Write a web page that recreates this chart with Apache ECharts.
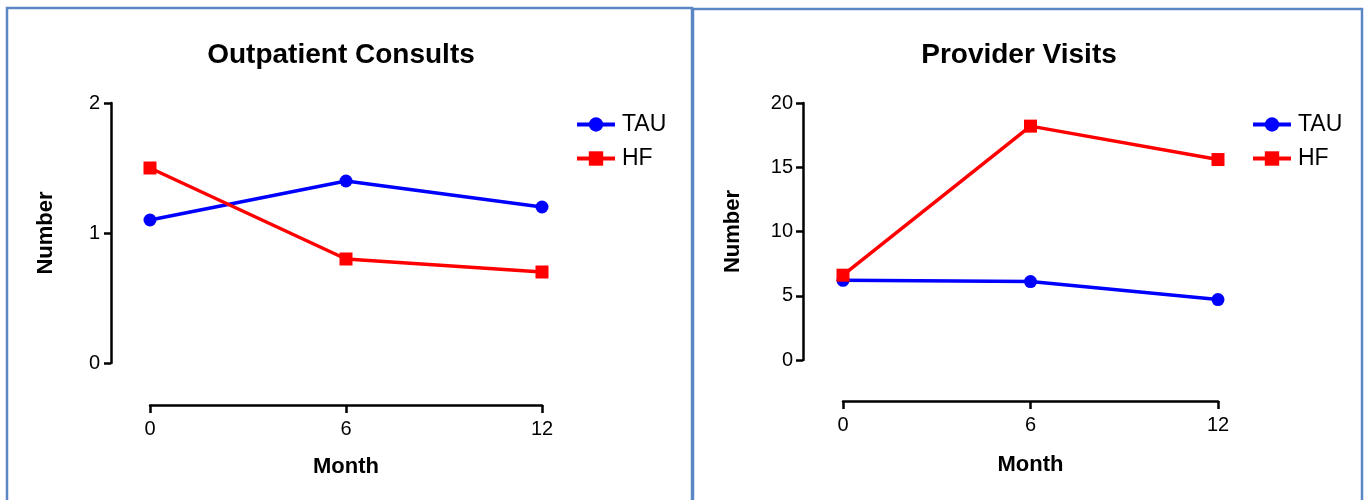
<!DOCTYPE html>
<html><head><meta charset="utf-8">
<script src="https://cdn.jsdelivr.net/npm/echarts@6/dist/echarts.min.js"></script>
<style>html,body{margin:0;padding:0;background:#fff}#c{width:1367px;height:500px}</style>
</head><body><div id="c"></div>
<script>
const months = [0, 6, 12];
const seriesNames = ['TAU', 'HF'];
const consultsTAU = [1.1, 1.4, 1.2];
const consultsHF = [1.5, 0.8, 0.7];
const visitsTAU = [6.2, 6.1, 4.7];
const visitsHF = [6.6, 18.2, 15.6];
const titles = ['Outpatient Consults', 'Provider Visits'];

const FONT = 'Liberation Sans, Arial, sans-serif';
const colors = { TAU: '#0000ff', HF: '#ff0000' };
const symbols = { TAU: 'circle', HF: 'rect' };

function pairs(v) { return months.map((m, i) => [m, v[i]]); }
function mkSeries(name, data, idx) {
  return {
    name, type: 'line', xAxisIndex: idx, yAxisIndex: idx,
    data: pairs(data), symbol: symbols[name], symbolSize: 13,
    lineStyle: { color: colors[name], width: 3.5 },
    itemStyle: { color: colors[name] }, animation: false, z: name === 'HF' ? 3 : 2
  };
}
const axisLine = { show: true, onZero: false, lineStyle: { color: '#000', width: 2.5 } };
const axisTick = { show: true, length: 7, lineStyle: { color: '#000', width: 2.5 } };
const axisLabel = { color: '#000', fontSize: 20, fontFamily: FONT, margin: 11 };
const nameStyle = { color: '#000', fontSize: 22, fontWeight: 'bold', fontFamily: FONT };
const titleStyle = { fontSize: 28, fontWeight: 'bold', fontFamily: FONT, color: '#000' };
const legendCommon = { orient: 'vertical', top: 108, itemWidth: 38, itemHeight: 18, itemGap: 11,
  lineStyle: { width: 4 },
  textStyle: { fontSize: 23, fontFamily: FONT, color: '#000', padding: [0, 0, 0, 2] }, selectedMode: false };

const chart = echarts.init(document.getElementById('c'));
chart.setOption({
  animation: false,
  title: [
    { text: titles[0], left: 336, top: 36, textAlign: 'center', textStyle: titleStyle },
    { text: titles[1], left: 1014, top: 36, textAlign: 'center', textStyle: titleStyle }
  ],
  grid: [
    { left: 150, top: 103, width: 392, height: 260 },
    { left: 843, top: 103, width: 375, height: 257 }
  ],
  xAxis: [0, 1].map(i => ({
    type: 'value', gridIndex: i, min: 0, max: 12, interval: 6, offset: i === 0 ? 42 : 41,
    axisLine, axisTick: { ...axisTick, length: 8 }, axisLabel: { ...axisLabel, margin: 14 }, splitLine: { show: false },
    name: 'Month', nameLocation: 'middle', nameGap: i === 0 ? 51 : 53, nameTextStyle: nameStyle
  })),
  yAxis: [
    { type: 'value', gridIndex: 0, min: 0, max: 2, interval: 1, offset: 39,
      axisLine, axisTick, axisLabel, splitLine: { show: false },
      name: 'Number', nameLocation: 'middle', nameGap: 54, nameTextStyle: nameStyle },
    { type: 'value', gridIndex: 1, min: 0, max: 20, interval: 5, offset: 40,
      axisLine, axisTick, axisLabel: { ...axisLabel, margin: 10 }, splitLine: { show: false },
      name: 'Number', nameLocation: 'middle', nameGap: 59, nameTextStyle: nameStyle }
  ],
  legend: [
    { ...legendCommon, data: seriesNames, left: 570 },
    { ...legendCommon, data: seriesNames, left: 1246 }
  ],
  graphic: [
    { type: 'rect', shape: { x: 7, y: 8, width: 685, height: 520 }, style: { fill: 'none', stroke: '#5b87c5', lineWidth: 2.5 }, silent: true },
    { type: 'rect', shape: { x: 693, y: 9, width: 669, height: 520 }, style: { fill: 'none', stroke: '#5b87c5', lineWidth: 2.5 }, silent: true }
  ],
  series: [
    mkSeries('TAU', consultsTAU, 0), mkSeries('HF', consultsHF, 0),
    mkSeries('TAU', visitsTAU, 1), mkSeries('HF', visitsHF, 1)
  ]
});
</script></body></html>
